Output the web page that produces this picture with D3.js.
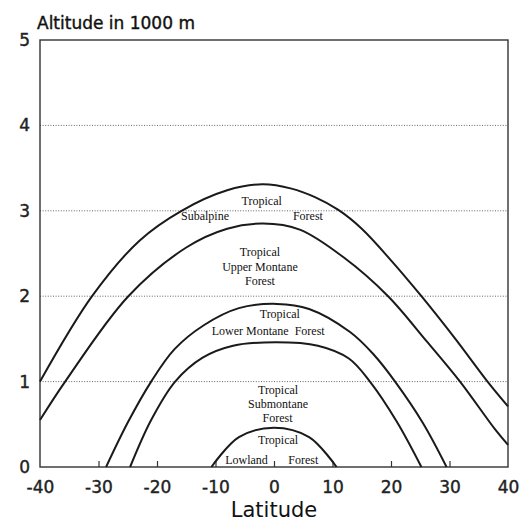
<!DOCTYPE html>
<html>
<head>
<meta charset="utf-8">
<script src="https://cdn.jsdelivr.net/npm/d3@7"></script>
<style>
  body { margin: 0; background: #fff; }
  svg { display: block; }
</style>
</head>
<body>
<div id="chart"></div>
<script>
// boundaries between the forest belts, [latitude, altitude in 1000 m]
const subalpineTop = [[-40, 1.0], [-31.1, 2.0], [-23, 2.65], [-15.8, 3.0], [-8, 3.24], [-2, 3.31],
    [3, 3.26], [7, 3.16], [11, 3.01], [15, 2.79], [20, 2.42], [25.2, 2.0], [31, 1.5], [36.5, 1.0], [40, 0.71]];
const upperMontaneTop = [[-40, 0.55], [-35.7, 1.0], [-24.9, 2.0], [-15, 2.57], [-8, 2.79],
    [-1.9, 2.85], [4.4, 2.78], [12, 2.45], [19.5, 2.0], [26, 1.48], [31.8, 1.0], [37.8, 0.44], [40, 0.26]];
const lowerMontaneTop = [[-28.7, 0], [-25, 0.52], [-21, 1.0], [-17, 1.38], [-12, 1.66], [-6, 1.86],
    [0.5, 1.91], [6, 1.85], [13, 1.58], [17, 1.32], [20.7, 1.0], [25.5, 0.51], [29.5, 0]];
const submontaneTop = [[-24.6, 0], [-21, 0.55], [-16.9, 1.0], [-12.2, 1.28], [-7, 1.42], [0.3, 1.46],
    [7.5, 1.42], [12.8, 1.27], [16.4, 1.0], [21, 0.53], [25.2, 0]];
const lowlandTop = [[-10.7, 0], [-6, 0.35], [0, 0.46], [6, 0.35], [10.7, 0]];

const boundaries = [subalpineTop, upperMontaneTop, lowerMontaneTop, submontaneTop, lowlandTop];

const xTicks = [-40, -30, -20, -10, 0, 10, 20, 30, 40];
const yTicks = [0, 1, 2, 3, 4, 5];

// belt names: text, latitude, altitude
const zoneLabels = [
    ["Tropical", -2.1, 3.07], ["Subalpine", -11.8, 2.89], ["Forest", 5.8, 2.89],
    ["Tropical", -2.4, 2.47], ["Upper Montane", -2.4, 2.29], ["Forest", -2.4, 2.13],
    ["Tropical", 1.0, 1.745], ["Lower Montane  Forest", -1.0, 1.545],
    ["Tropical", 0.7, 0.855], ["Submontane", 0.7, 0.687], ["Forest", 0.6, 0.53],
    ["Tropical", 0.7, 0.27], ["Lowland", -4.7, 0.035], ["Forest", 5.0, 0.035]
];

const W = 520, H = 521;
const margin = {top: 40, right: 12, bottom: 54, left: 40};

const svg = d3.select("#chart").append("svg")
    .attr("width", W)
    .attr("height", H);

const x = d3.scaleLinear().domain([-40, 40]).range([margin.left, W - margin.right]);
const y = d3.scaleLinear().domain([0, 5]).range([H - margin.bottom, margin.top]);

// dotted gridlines
svg.append("g")
    .selectAll("line")
    .data(yTicks.filter(d => d > 0 && d < 5))
    .join("line")
    .attr("x1", x(-40)).attr("x2", x(40))
    .attr("y1", d => y(d)).attr("y2", d => y(d))
    .attr("stroke", "#555")
    .attr("stroke-width", 0.9)
    .attr("stroke-dasharray", "1,1.6");

// frame
svg.append("rect")
    .attr("x", x(-40)).attr("y", y(5))
    .attr("width", x(40) - x(-40))
    .attr("height", y(0) - y(5))
    .attr("fill", "none")
    .attr("stroke", "#333")
    .attr("stroke-width", 1.4);

// x axis: small inner ticks, labels below
const xAxis = svg.append("g")
    .attr("transform", `translate(0,${y(0)})`)
    .call(d3.axisBottom(x).tickValues(xTicks).tickSizeInner(-6).tickSizeOuter(0).tickPadding(14)
        .tickFormat(d => String(d).replace("−", "-")));
xAxis.select(".domain").remove();
xAxis.selectAll(".tick line")
    .attr("stroke", "#333")
    .attr("stroke-width", 1.2)
    .filter(d => d === -40 || d === 40).remove();
xAxis.selectAll(".tick text")
    .attr("font-family", "DejaVu Sans")
    .attr("font-size", "17px")
    .attr("fill", "#222")
    .attr("stroke", "#222")
    .attr("stroke-width", 0.4);

// y axis: labels only
const yAxis = svg.append("g")
    .attr("transform", `translate(${x(-40)},0)`)
    .call(d3.axisLeft(y).tickValues(yTicks).tickSize(0).tickPadding(10).tickFormat(d3.format("d")));
yAxis.select(".domain").remove();
yAxis.selectAll(".tick text")
    .attr("font-family", "DejaVu Sans")
    .attr("font-size", "17px")
    .attr("fill", "#222")
    .attr("stroke", "#222")
    .attr("stroke-width", 0.4);

// belt boundaries
const line = d3.line()
    .x(d => x(d[0]))
    .y(d => y(d[1]))
    .curve(d3.curveCatmullRom.alpha(0.5));

svg.append("g")
    .selectAll("path")
    .data(boundaries)
    .join("path")
    .attr("d", line)
    .attr("fill", "none")
    .attr("stroke", "#1a1a1a")
    .attr("stroke-width", 2);

// belt names
svg.append("g")
    .selectAll("text")
    .data(zoneLabels)
    .join("text")
    .attr("x", d => x(d[1]))
    .attr("y", d => y(d[2]))
    .attr("text-anchor", "middle")
    .attr("font-family", "Liberation Serif")
    .attr("font-size", "12px")
    .attr("fill", "#111")
    .style("white-space", "pre")
    .text(d => d[0]);

// axis titles
svg.append("text")
    .attr("x", 37)
    .attr("y", 29)
    .attr("font-family", "DejaVu Sans")
    .attr("font-size", "17px")
    .attr("fill", "#111")
    .attr("stroke", "#111")
    .attr("stroke-width", 0.4)
    .text("Altitude in 1000 m");

svg.append("text")
    .attr("x", (x(-40) + x(40)) / 2)
    .attr("y", 517)
    .attr("text-anchor", "middle")
    .attr("font-family", "DejaVu Sans")
    .attr("font-size", "21px")
    .attr("fill", "#111")
    .text("Latitude");
</script>
</body>
</html>
